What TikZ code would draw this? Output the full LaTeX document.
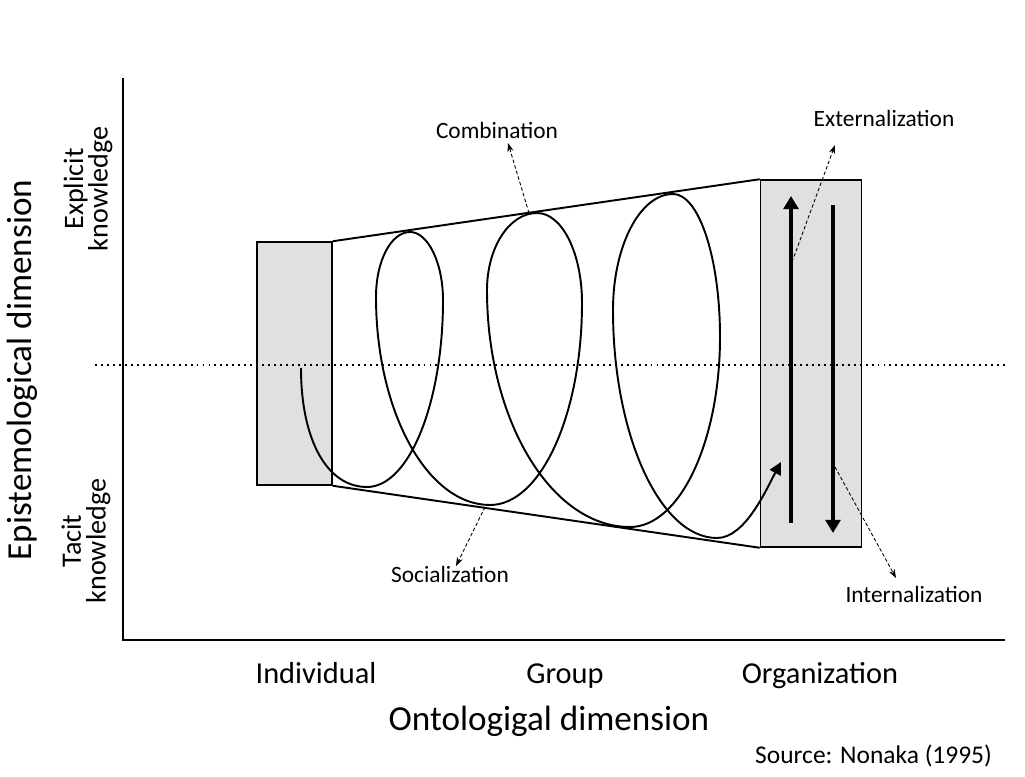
\documentclass[tikz,border=0pt]{standalone}
\usepackage{fontspec}
\setmainfont{Carlito}
\usetikzlibrary{arrows.meta}
\definecolor{boxgray}{RGB}{224,224,224}

\begin{document}
\begin{tikzpicture}[x=0.02cm, y=-0.02cm,
  levelbox/.style={draw=black, fill=boxgray, line width=0.9pt, inner sep=0pt},
  axisline/.style={line width=0.9pt},
  midline/.style={line width=1.1pt, dash pattern=on 1.1pt off 2.3pt},
  spiral/.style={line width=1.1pt},
  flow/.style={line width=2pt, -{Triangle[length=7.5pt,width=8.5pt]}},
  leader/.style={line width=0.5pt, dash pattern=on 2pt off 1.3pt,
                 -{Stealth[length=5pt,width=3.5pt]}},
  dimtext/.style={font=\fontsize{20}{24}\selectfont},
  leveltext/.style={font=\fontsize{17.3}{20}\selectfont},
  kindtext/.style={font=\fontsize{16}{14}\selectfont, align=center, rotate=90},
  modetext/.style={font=\fontsize{13.3}{16}\selectfont},
  sourcetext/.style={font=\fontsize{14.5}{17}\selectfont}
]
% canvas
\useasboundingbox (0,0) rectangle (1025,777);

% axes
\coordinate (origin) at (123,640);
\coordinate (ytop) at (123,78);
\coordinate (xend) at (1005,640);
\draw[axisline] (ytop) -- (origin) -- (xend);

% individual and organization levels
\node[levelbox, minimum width=1.5cm, minimum height=4.86cm] (indiv) at (294.5,363.5) {};
\node[levelbox, minimum width=2.02cm, minimum height=7.34cm] (org) at (811,363.5) {};
\draw[spiral] (indiv.north east) -- (org.north west);
\draw[spiral] (indiv.south east) -- (org.south west);

% the tacit/explicit divide, running over both levels
\coordinate (divL) at (95,365);
\coordinate (divR) at (1005,365);
\draw[midline] (divL) -- (divR);

% knowledge spiral
\draw[spiral, -{Triangle[length=7pt,width=7pt]}]
  (301,368)
  .. controls (301,440) and (327,487) .. (367,487)
  .. controls (409,487) and (443,403) .. (443,300)
  .. controls (443,263) and (428,232) .. (410,232)
  .. controls (391,232) and (376,261) .. (376,297)
  .. controls (376,411) and (427,505) .. (490,505)
  .. controls (541,505) and (582,414) .. (582,303)
  .. controls (582,253) and (562,213) .. (537,213)
  .. controls (509,213) and (487,248) .. (487,290)
  .. controls (487,420) and (551,527) .. (630,527)
  .. controls (680,527) and (720,441) .. (720,337)
  .. controls (720,258) and (699,194) .. (673,194)
  .. controls (640,194) and (613,246) .. (613,310)
  .. controls (613,435) and (660,538) .. (717,538)
  .. controls (745,538) and (766,490) .. (781,462);

% flows inside the organization
\coordinate (upS) at (791,523);
\coordinate (upE) at (791,196);
\coordinate (dnS) at (833,205);
\coordinate (dnE) at (833,533);
\draw[flow] (upS) -- (upE);
\draw[flow] (dnS) -- (dnE);

% axis labels
\node[dimtext, rotate=90] (epi) at (22,370) {Epistemological dimension};
\node[kindtext] (explicit) at (88,189) {Explicit\\knowledge};
\node[kindtext] (tacit) at (86,541) {Tacit\\knowledge};
\node[leveltext, anchor=base] (lvlI) at (316,683) {Individual};
\node[leveltext, anchor=base] (lvlG) at (565,683) {Group};
\node[leveltext, anchor=base] (lvlO) at (820,683) {Organization};
\node[dimtext, anchor=base] (onto) at (549,730) {Ontologigal dimension};
\node[sourcetext, anchor=base west] (src) at (749,763) {Source: Nonaka (1995)};

% conversion modes
\node[modetext, anchor=base] (comb) at (497,139) {Combination};
\node[modetext, anchor=base] (ext) at (884,127) {Externalization};
\node[modetext, anchor=base] (int) at (914,602) {Internalization};
\node[modetext, anchor=base] (soc) at (450,582) {Socialization};

\coordinate (combFoot) at (529,213);
\coordinate (combTip) at (508,143);
\coordinate (extFoot) at (792,262);
\coordinate (extTip) at (835,145);
\coordinate (intFoot) at (835,467);
\coordinate (intTip) at (896,578);
\coordinate (socFoot) at (485,507);
\coordinate (socTip) at (456,566);
\draw[leader] (combFoot) -- (combTip);
\draw[leader] (extFoot) -- (extTip);
\draw[leader] (intFoot) -- (intTip);
\draw[leader] (socFoot) -- (socTip);
\end{tikzpicture}
\end{document}
